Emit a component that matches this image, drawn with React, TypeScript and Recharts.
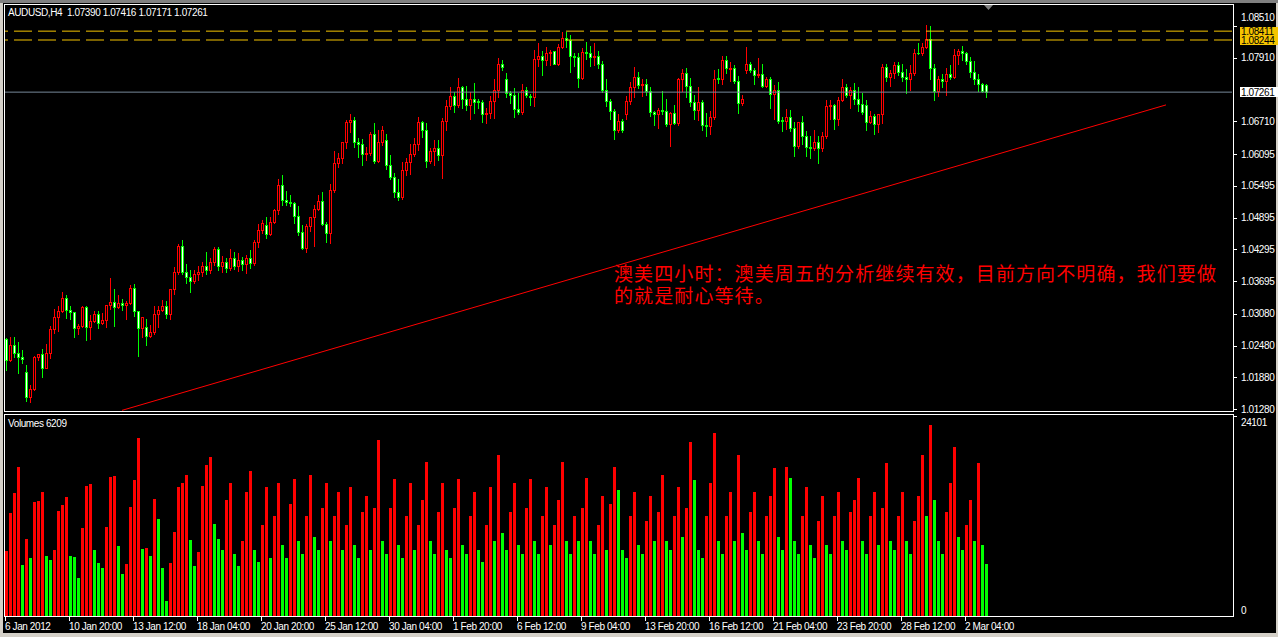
import { ComposedChart, Bar, XAxis, YAxis, ReferenceLine } from "recharts"

// AUDUSD H4 candles, 6 Jan 2012 .. 5 Mar 2012
const opens = [
  1.0260, 1.0221, 1.0250, 1.0235, 1.0226, 1.0198, 1.0151, 1.0166, 1.0227, 1.0232,
  1.0206, 1.0235, 1.0279, 1.0303, 1.0314, 1.0337, 1.0315, 1.0311, 1.0281, 1.0285,
  1.0320, 1.0284, 1.0294, 1.0307, 1.0291, 1.0296, 1.0324, 1.0330, 1.0321, 1.0328,
  1.0324, 1.0328, 1.0356, 1.0313, 1.0282, 1.0284, 1.0266, 1.0273, 1.0308, 1.0315,
  1.0322, 1.0308, 1.0354, 1.0386, 1.0436, 1.0387, 1.0377, 1.0370, 1.0383, 1.0387,
  1.0398, 1.0391, 1.0406, 1.0430, 1.0398, 1.0406, 1.0394, 1.0413, 1.0398, 1.0409,
  1.0402, 1.0413, 1.0404, 1.0443, 1.0467, 1.0475, 1.0459, 1.0482, 1.0504, 1.0551,
  1.0523, 1.0519, 1.0517, 1.0493, 1.0463, 1.0432, 1.0473, 1.0490, 1.0505, 1.0520,
  1.0478, 1.0460, 1.0541, 1.0593, 1.0601, 1.0633, 1.0670, 1.0674, 1.0633, 1.0629,
  1.0610, 1.0612, 1.0648, 1.0597, 1.0633, 1.0635, 1.0589, 1.0567, 1.0537, 1.0529,
  1.0579, 1.0595, 1.0610, 1.0629, 1.0670, 1.0654, 1.0597, 1.0616, 1.0621, 1.0608,
  1.0672, 1.0699, 1.0718, 1.0702, 1.0736, 1.0714, 1.0702, 1.0714, 1.0710, 1.0708,
  1.0684, 1.0687, 1.0710, 1.0731, 1.0780, 1.0750, 1.0725, 1.0721, 1.0695, 1.0689,
  1.0731, 1.0718, 1.0716, 1.0789, 1.0795, 1.0787, 1.0799, 1.0804, 1.0780, 1.0812,
  1.0829, 1.0825, 1.0795, 1.0793, 1.0753, 1.0802, 1.0800, 1.0793, 1.0795, 1.0780,
  1.0731, 1.0710, 1.0691, 1.0655, 1.0672, 1.0684, 1.0710, 1.0735, 1.0755, 1.0740,
  1.0742, 1.0729, 1.0689, 1.0684, 1.0693, 1.0691, 1.0666, 1.0687, 1.0668, 1.0751,
  1.0763, 1.0738, 1.0708, 1.0693, 1.0708, 1.0664, 1.0662, 1.0680, 1.0753, 1.0750,
  1.0787, 1.0770, 1.0772, 1.0748, 1.0706, 1.0768, 1.0780, 1.0768, 1.0759, 1.0761,
  1.0738, 1.0751, 1.0723, 1.0731, 1.0674, 1.0672, 1.0680, 1.0659, 1.0625, 1.0670,
  1.0644, 1.0623, 1.0621, 1.0633, 1.0620, 1.0644, 1.0700, 1.0702, 1.0676, 1.0712,
  1.0735, 1.0721, 1.0731, 1.0714, 1.0704, 1.0702, 1.0670, 1.0682, 1.0666, 1.0684,
  1.0774, 1.0755, 1.0763, 1.0778, 1.0765, 1.0755, 1.0751, 1.0763, 1.0800, 1.0799,
  1.0812, 1.0827, 1.0772, 1.0729, 1.0751, 1.0748, 1.0761, 1.0755, 1.0797, 1.0804,
  1.0799, 1.0784, 1.0765, 1.0751, 1.0742, 1.07390,
]

const highs = [
  1.0262, 1.0264, 1.0264, 1.0254, 1.0240, 1.0211, 1.0174, 1.0229, 1.0233, 1.0242,
  1.0252, 1.0285, 1.0317, 1.0323, 1.0349, 1.0343, 1.0323, 1.0311, 1.0288, 1.0323,
  1.0322, 1.0306, 1.0313, 1.0313, 1.0310, 1.0324, 1.0375, 1.0355, 1.0343, 1.0336,
  1.0332, 1.0362, 1.0364, 1.0313, 1.0303, 1.0299, 1.0287, 1.0322, 1.0322, 1.0334,
  1.0332, 1.0354, 1.0397, 1.0439, 1.0447, 1.0402, 1.0391, 1.0391, 1.0398, 1.0406,
  1.0424, 1.0413, 1.0434, 1.0434, 1.0417, 1.0413, 1.0430, 1.0424, 1.0423, 1.0415,
  1.0419, 1.0428, 1.0448, 1.0477, 1.0485, 1.0490, 1.0490, 1.0505, 1.0563, 1.0569,
  1.0539, 1.0532, 1.0519, 1.0511, 1.0476, 1.0477, 1.0490, 1.0513, 1.0532, 1.0537,
  1.0482, 1.0552, 1.0616, 1.0612, 1.0633, 1.0674, 1.0684, 1.0680, 1.0640, 1.0638,
  1.0623, 1.0650, 1.0667, 1.0654, 1.0663, 1.0648, 1.0608, 1.0574, 1.0563, 1.0595,
  1.0601, 1.0628, 1.0640, 1.0680, 1.0672, 1.0668, 1.0620, 1.0635, 1.0635, 1.0678,
  1.0712, 1.0736, 1.0727, 1.0753, 1.0738, 1.0738, 1.0727, 1.0744, 1.0714, 1.0712,
  1.0697, 1.0718, 1.0750, 1.0791, 1.0787, 1.0762, 1.0729, 1.0733, 1.0725, 1.0742,
  1.0735, 1.0723, 1.0806, 1.0819, 1.0804, 1.0812, 1.0806, 1.0804, 1.0817, 1.0840,
  1.0840, 1.0833, 1.0800, 1.0799, 1.0810, 1.0821, 1.0814, 1.0819, 1.0804, 1.0785,
  1.0751, 1.0714, 1.0695, 1.0684, 1.0676, 1.0719, 1.0746, 1.0774, 1.0765, 1.0751,
  1.0750, 1.0735, 1.0691, 1.0697, 1.0729, 1.0714, 1.0689, 1.0701, 1.0753, 1.0770,
  1.0772, 1.0753, 1.0721, 1.0735, 1.0712, 1.0687, 1.0691, 1.0767, 1.0770, 1.0795,
  1.0795, 1.0783, 1.0778, 1.0757, 1.0721, 1.0812, 1.0783, 1.0772, 1.0791, 1.0780,
  1.0755, 1.0755, 1.0740, 1.0746, 1.0680, 1.0695, 1.0693, 1.0670, 1.0670, 1.0682,
  1.0652, 1.0644, 1.0654, 1.0644, 1.0650, 1.0712, 1.0712, 1.0704, 1.0716, 1.0751,
  1.0742, 1.0735, 1.0744, 1.0735, 1.0725, 1.0712, 1.0691, 1.0685, 1.0685, 1.0780,
  1.0780, 1.0767, 1.0782, 1.0783, 1.0780, 1.0770, 1.0778, 1.0808, 1.0819, 1.0819,
  1.0853, 1.0851, 1.0780, 1.0757, 1.0761, 1.0772, 1.0778, 1.0808, 1.0808, 1.0814,
  1.0802, 1.0793, 1.0785, 1.0761, 1.0744, 1.07416,
]

const lows = [
  1.0202, 1.0219, 1.0226, 1.0197, 1.0216, 1.0144, 1.0141, 1.0164, 1.0221, 1.0189,
  1.0206, 1.0225, 1.0271, 1.0276, 1.0311, 1.0301, 1.0298, 1.0265, 1.0270, 1.0283,
  1.0259, 1.0261, 1.0292, 1.0282, 1.0289, 1.0284, 1.0318, 1.0285, 1.0319, 1.0316,
  1.0298, 1.0326, 1.0304, 1.0228, 1.0265, 1.0250, 1.0264, 1.0270, 1.0284, 1.0313,
  1.0300, 1.0298, 1.0345, 1.0383, 1.0383, 1.0366, 1.0350, 1.0366, 1.0372, 1.0379,
  1.0383, 1.0385, 1.0400, 1.0391, 1.0387, 1.0387, 1.0391, 1.0392, 1.0389, 1.0391,
  1.0385, 1.0394, 1.0400, 1.0434, 1.0461, 1.0451, 1.0456, 1.0480, 1.0496, 1.0513,
  1.0514, 1.0511, 1.0479, 1.0457, 1.0431, 1.0425, 1.0464, 1.0436, 1.0503, 1.0475,
  1.0444, 1.0441, 1.0537, 1.0584, 1.0593, 1.0621, 1.0650, 1.0623, 1.0604, 1.0589,
  1.0599, 1.0608, 1.0593, 1.0594, 1.0627, 1.0582, 1.0563, 1.0529, 1.0522, 1.0524,
  1.0570, 1.0572, 1.0606, 1.0617, 1.0642, 1.0584, 1.0593, 1.0589, 1.0598, 1.0564,
  1.0655, 1.0695, 1.0689, 1.0698, 1.0697, 1.0693, 1.0676, 1.0687, 1.0697, 1.0670,
  1.0668, 1.0678, 1.0678, 1.0716, 1.0768, 1.0716, 1.0706, 1.0680, 1.0684, 1.0684,
  1.0716, 1.0701, 1.0699, 1.0776, 1.0759, 1.0778, 1.0778, 1.0780, 1.0778, 1.0810,
  1.0812, 1.0765, 1.0776, 1.0735, 1.0751, 1.0789, 1.0776, 1.0778, 1.0772, 1.0727,
  1.0699, 1.0676, 1.0637, 1.0650, 1.0650, 1.0676, 1.0704, 1.0716, 1.0733, 1.0719,
  1.0721, 1.0682, 1.0665, 1.0659, 1.0684, 1.0662, 1.0625, 1.0666, 1.0665, 1.0729,
  1.0716, 1.0699, 1.0676, 1.0674, 1.0655, 1.0644, 1.0648, 1.0676, 1.0744, 1.0742,
  1.0762, 1.0748, 1.0744, 1.0686, 1.0702, 1.0762, 1.0765, 1.0742, 1.0755, 1.0735,
  1.0736, 1.0697, 1.0676, 1.0668, 1.0652, 1.0657, 1.0652, 1.0606, 1.0621, 1.0629,
  1.0606, 1.0601, 1.0617, 1.0593, 1.0616, 1.0640, 1.0676, 1.0657, 1.0664, 1.0710,
  1.0716, 1.0697, 1.0704, 1.0691, 1.0684, 1.0655, 1.0667, 1.0648, 1.0650, 1.0667,
  1.0748, 1.0738, 1.0753, 1.0759, 1.0748, 1.0725, 1.0731, 1.0759, 1.0798, 1.0797,
  1.0810, 1.0751, 1.0712, 1.0719, 1.0735, 1.0721, 1.0751, 1.0753, 1.0780, 1.0787,
  1.0780, 1.0755, 1.0742, 1.0729, 1.0727, 1.07171,
]

const closes = [
  1.0221, 1.0250, 1.0235, 1.0226, 1.0223, 1.0151, 1.0166, 1.0227, 1.0232, 1.0206,
  1.0235, 1.0279, 1.0303, 1.0314, 1.0337, 1.0315, 1.0311, 1.0281, 1.0285, 1.0320,
  1.0284, 1.0294, 1.0307, 1.0291, 1.0296, 1.0324, 1.0330, 1.0321, 1.0328, 1.0324,
  1.0328, 1.0356, 1.0313, 1.0282, 1.0303, 1.0266, 1.0273, 1.0308, 1.0315, 1.0322,
  1.0308, 1.0354, 1.0386, 1.0436, 1.0387, 1.0377, 1.0370, 1.0383, 1.0387, 1.0398,
  1.0391, 1.0406, 1.0430, 1.0398, 1.0406, 1.0394, 1.0413, 1.0398, 1.0409, 1.0402,
  1.0413, 1.0404, 1.0443, 1.0467, 1.0480, 1.0459, 1.0482, 1.0504, 1.0551, 1.0523,
  1.0519, 1.0517, 1.0493, 1.0463, 1.0432, 1.0473, 1.0490, 1.0505, 1.0520, 1.0478,
  1.0460, 1.0541, 1.0593, 1.0601, 1.0633, 1.0670, 1.0674, 1.0633, 1.0629, 1.0610,
  1.0612, 1.0648, 1.0597, 1.0633, 1.0654, 1.0589, 1.0567, 1.0537, 1.0529, 1.0579,
  1.0595, 1.0610, 1.0629, 1.0670, 1.0654, 1.0597, 1.0616, 1.0621, 1.0608, 1.0672,
  1.0699, 1.0718, 1.0702, 1.0736, 1.0714, 1.0702, 1.0714, 1.0708, 1.0708, 1.0684,
  1.0687, 1.0710, 1.0731, 1.0780, 1.0774, 1.0725, 1.0721, 1.0695, 1.0689, 1.0731,
  1.0721, 1.0716, 1.0789, 1.0795, 1.0787, 1.0799, 1.0802, 1.0780, 1.0812, 1.0829,
  1.0825, 1.0795, 1.0793, 1.0753, 1.0802, 1.0800, 1.0793, 1.0795, 1.0780, 1.0731,
  1.0710, 1.0691, 1.0655, 1.0672, 1.0655, 1.0710, 1.0735, 1.0755, 1.0740, 1.0742,
  1.0729, 1.0689, 1.0684, 1.0693, 1.0691, 1.0666, 1.0687, 1.0668, 1.0751, 1.0763,
  1.0738, 1.0708, 1.0693, 1.0708, 1.0664, 1.0662, 1.0680, 1.0751, 1.0750, 1.0787,
  1.0772, 1.0772, 1.0748, 1.0706, 1.0714, 1.0780, 1.0768, 1.0759, 1.0761, 1.0738,
  1.0751, 1.0723, 1.0731, 1.0672, 1.0672, 1.0680, 1.0659, 1.0625, 1.0670, 1.0644,
  1.0623, 1.0621, 1.0633, 1.0620, 1.0644, 1.0699, 1.0702, 1.0676, 1.0712, 1.0735,
  1.0721, 1.0731, 1.0714, 1.0704, 1.0689, 1.0670, 1.0682, 1.0666, 1.0684, 1.0774,
  1.0755, 1.0763, 1.0778, 1.0765, 1.0755, 1.0751, 1.0763, 1.0800, 1.0799, 1.0812,
  1.0827, 1.0772, 1.0729, 1.0751, 1.0748, 1.0761, 1.0755, 1.0797, 1.0804, 1.0799,
  1.0784, 1.0765, 1.0751, 1.0742, 1.0729, 1.07261,
]

const volumes = [
  7869, 12448, 14858, 17991, 6146, 9315, 7025, 13773, 13858, 14942,
  7230, 6748, 7953, 12689, 13376, 14340, 7230, 7100, 4615, 10604,
  15665, 15906, 7953, 6387, 5820, 10725, 16750, 16870, 8435, 5061,
  6266, 13135, 16388, 21449, 8074, 8194, 7230, 14099, 11689, 5820,
  1808, 6387, 10122, 15545, 16027, 16991, 9158, 6025, 7712, 15665,
  18196, 19160, 11086, 9279, 8000, 14000, 16000, 7500, 6000, 9000,
  15000, 17500, 8000, 6500, 11000, 15500, 7000, 12000, 16000, 8500,
  7000, 13500, 16500, 9000, 7500, 12000, 17000, 9500, 8000, 13000,
  16000, 9000, 12000, 15000, 8000, 11000, 15500, 8500, 7000, 12500,
  14500, 8000, 13000, 21208, 9000, 7500, 13000, 16500, 8500, 7000,
  12000, 16000, 8000, 11000, 14000, 18557, 9000, 7500, 12500, 16000,
  8000, 7000, 13000, 16500, 8500, 7500, 12000, 15000, 8000, 6500,
  11000, 15500, 9000, 19401, 10000, 8000, 12500, 16000, 8500, 7500,
  13000, 16500, 9000, 7500, 12000, 15500, 8500, 11000, 14000, 18557,
  9000, 7500, 12000, 9000, 13000, 16629, 9000, 7500, 11000, 14500,
  8000, 13500, 17955, 15183, 8000, 7000, 12000, 15000, 8500, 7500,
  11500, 14500, 9000, 12500, 16991, 9000, 8000, 12000, 15500, 9500,
  13000, 20967, 16388, 8000, 7000, 12000, 16000, 22052, 9000, 7500,
  12000, 15000, 9000, 19401, 10000, 8000, 12500, 15000, 9000, 7500,
  12000, 14500, 17834, 9500, 8000, 18000, 16600, 9000, 7500, 12000,
  15500, 8500, 7000, 11500, 14500, 8500, 7500, 12000, 15000, 9000,
  8000, 12500, 14000, 16629, 9000, 7500, 12000, 15000, 8500, 13000,
  18437, 9000, 8000, 12000, 15000, 9000, 7500, 11500, 14500, 19401,
  12000, 23016, 13978, 9000, 7500, 12500, 16000, 20365, 9500, 8000,
  11000, 14000, 9000, 18437, 8500, 6209,
]

const timeLabels = [
  "6 Jan 2012", "10 Jan 20:00", "13 Jan 12:00", "18 Jan 04:00", "20 Jan 20:00", "25 Jan 12:00",
  "30 Jan 04:00", "1 Feb 20:00", "6 Feb 12:00", "9 Feb 04:00", "13 Feb 20:00", "16 Feb 12:00",
  "21 Feb 04:00", "23 Feb 20:00", "28 Feb 12:00", "2 Mar 04:00",
]

const priceTicks = [1.0851, 1.0791, 1.0671, 1.06095, 1.05495, 1.04895, 1.04295, 1.03695, 1.0308, 1.0248, 1.0188, 1.0128]
const levels = [1.08411, 1.08244]
const bid = 1.07261
const trendFrom = { slot: 30, price: 1.0126 }
const trendTo = { slot: 291, price: 1.0702 }
const volTop = 24101

const SLOTS = 307 // visible bar slots incl. empty space on the right
const LABEL_EVERY = 16
const FONT = "'Liberation Sans', Arial, sans-serif"
const note = ["澳美四小时：澳美周五的分析继续有效，目前方向不明确，我们要做", "的就是耐心等待。"]

const rows = Array.from({ length: SLOTS }, (_, k) => {
  if (k >= closes.length) return { i: k + 1 }
  return {
    i: k + 1,
    range: [lows[k], highs[k]],
    o: opens[k],
    h: highs[k],
    l: lows[k],
    c: closes[k],
    vol: volumes[k],
    volUp: k === 0 || volumes[k] >= volumes[k - 1],
  }
})
const timeTicks = timeLabels.map((_, k) => 1 + k * LABEL_EVERY)

function Candle(props: any) {
  const { x, y, width, height, payload } = props
  if (payload == null || payload.o == null) return null
  const { o, c, h, l } = payload
  const span = h - l
  const toY = (p: number) => (span > 0 ? y + ((h - p) / span) * height : y)
  const cx = Math.round(x + width / 2)
  const bull = c > o
  const col = bull ? "#ff0000" : "#00ff00"
  const top = Math.round(toY(Math.max(o, c)))
  const bot = Math.round(toY(Math.min(o, c)))
  const hy = Math.round(y)
  const ly = Math.round(y + height)
  return (
    <g shapeRendering="crispEdges">
      <rect x={cx} y={hy} width={1} height={Math.max(1, ly - hy + 1)} fill={col} />
      <rect x={cx - 1} y={top} width={3} height={Math.max(1, bot - top + 1)} fill={col} />
      {bot - top >= 2 && <rect x={cx} y={top + 1} width={1} height={bot - top - 1} fill={bull ? "#000" : "#fff"} />}
    </g>
  )
}

function VolBar(props: any) {
  const { x, y, width, height, payload } = props
  if (payload == null || payload.vol == null) return null
  const cx = Math.round(x + width / 2)
  const t = Math.round(y)
  const b = Math.round(y + height)
  return <rect x={cx - 1} y={t} width={3} height={b - t} fill={payload.volUp ? "#ff0000" : "#00ff00"} shapeRendering="crispEdges" />
}

const txt = { fontFamily: FONT, fontSize: 10, letterSpacing: -0.4 }

function PriceTick(props: any) {
  const { y, payload } = props
  const v = payload.value as number
  const label = v.toFixed(5)
  if (levels.includes(v)) {
    return (
      <g shapeRendering="crispEdges">
        <rect x={1240} y={Math.round(y) - 4} width={38} height={9} fill="#f5c400" />
        <text x={1241} y={y} dy="0.36em" fill="#000" style={txt}>{label}</text>
      </g>
    )
  }
  if (v === bid) {
    return (
      <g shapeRendering="crispEdges">
        <rect x={1240} y={Math.round(y) - 5} width={38} height={10} fill="#fff" />
        <text x={1241} y={y} dy="0.36em" fill="#000" style={txt}>{label}</text>
      </g>
    )
  }
  // topmost label sits above the level boxes
  const ty = v === priceTicks[0] ? y - 8 : y
  return (
    <g>
      <line x1={1233} x2={1237} y1={Math.round(y) + 0.5} y2={Math.round(y) + 0.5} stroke="#fff" />
      <text x={1241} y={ty} dy="0.36em" fill="#fff" style={txt}>{label}</text>
    </g>
  )
}

function VolTick(props: any) {
  const { y, payload } = props
  const v = payload.value as number
  return (
    <g>
      {v !== 0 && <line x1={1233} x2={1237} y1={Math.round(y) + 0.5} y2={Math.round(y) + 0.5} stroke="#fff" />}
      <text x={1241} y={v === 0 ? y - 6 : y + 6} dy="0.36em" fill="#fff" style={txt}>{v}</text>
    </g>
  )
}

function TimeTick(props: any) {
  const { x, payload } = props
  const k = (payload.value - 1) / LABEL_EVERY
  const left = Math.round(x) - 1
  return (
    <g>
      <line x1={left + 0.5} x2={left + 0.5} y1={203} y2={207} stroke="#fff" />
      <text x={left} y={212} dy="0.36em" fill="#fff" style={txt}>{timeLabels[k]}</text>
    </g>
  )
}

export default function App() {
  return (
    <div style={{ position: "relative", width: 1278, height: 637, background: "#d4d0c8", overflow: "hidden" }}>
      <style>{"body{margin:0}"}</style>
      <div style={{ position: "absolute", left: 0, top: 0, width: 1278, height: 3, background: "#808080" }} />
      <div style={{ position: "absolute", left: 3, top: 3, width: 1273, height: 630, background: "#000" }} />

      <div style={{ position: "absolute", left: 0, top: 0 }}>
        <ComposedChart width={1278} height={414} data={rows} margin={{ top: 5, right: 1, bottom: 3, left: 4 }} barCategoryGap={0}>
          <XAxis dataKey="i" type="category" hide height={0} />
          <YAxis
            orientation="right"
            width={45}
            type="number"
            domain={[1.01248, 1.08904]}
            allowDataOverflow
            ticks={[...priceTicks, ...levels, bid]}
            interval={0}
            axisLine={false}
            tickLine={false}
            tick={<PriceTick />}
          />
          <ReferenceLine y={bid} stroke="#778899" strokeWidth={1} />
          {levels.map((lv) => (
            <ReferenceLine key={lv} y={lv} stroke="#f5c400" strokeWidth={1} strokeDasharray="18 6" />
          ))}
          <ReferenceLine
            segment={[{ x: trendFrom.slot, y: trendFrom.price }, { x: trendTo.slot, y: trendTo.price }]}
            stroke="#ff0000"
            strokeWidth={1}
            ifOverflow="visible"
          />
          <Bar dataKey="range" shape={<Candle />} isAnimationActive={false} />
        </ComposedChart>
      </div>

      <div style={{ position: "absolute", left: 0, top: 414 }}>
        <ComposedChart width={1278} height={223} data={rows} margin={{ top: 2, right: 1, bottom: 0, left: 4 }} barCategoryGap={0}>
          <XAxis
            dataKey="i"
            type="category"
            height={21}
            ticks={timeTicks}
            interval={0}
            axisLine={false}
            tickLine={false}
            tick={<TimeTick />}
          />
          <YAxis
            orientation="right"
            width={45}
            type="number"
            domain={[0, volTop]}
            allowDataOverflow
            ticks={[0, volTop]}
            interval={0}
            axisLine={false}
            tickLine={false}
            tick={<VolTick />}
          />
          <Bar dataKey="vol" shape={<VolBar />} isAnimationActive={false} />
        </ComposedChart>
      </div>

      <div style={{ position: "absolute", left: 4, top: 4, width: 1230, height: 408, border: "1px solid #fff", boxSizing: "border-box" }} />
      <div style={{ position: "absolute", left: 4, top: 414, width: 1230, height: 203, border: "1px solid #fff", boxSizing: "border-box" }} />

      <div style={{ position: "absolute", left: 8, top: 7, color: "#fff", ...txt, whiteSpace: "pre", lineHeight: "12px" }}>
        {"AUDUSD,H4  1.07390 1.07416 1.07171 1.07261"}
      </div>
      <div style={{ position: "absolute", left: 8, top: 418, color: "#fff", ...txt, whiteSpace: "pre", lineHeight: "12px" }}>
        {"Volumes 6209"}
      </div>
      <div
        style={{
          position: "absolute",
          left: 614,
          top: 262,
          color: "#ff0000",
          fontFamily: "'Noto Sans CJK SC', sans-serif",
          fontSize: 19,
          letterSpacing: 1.1,
          lineHeight: "22px",
          whiteSpace: "pre",
        }}
      >
        {note.join("\n")}
      </div>
      <svg style={{ position: "absolute", left: 0, top: 0 }} width={1278} height={20}>
        <polygon points="984,5 993,5 988.5,10" fill="#808080" />
      </svg>
    </div>
  )
}
